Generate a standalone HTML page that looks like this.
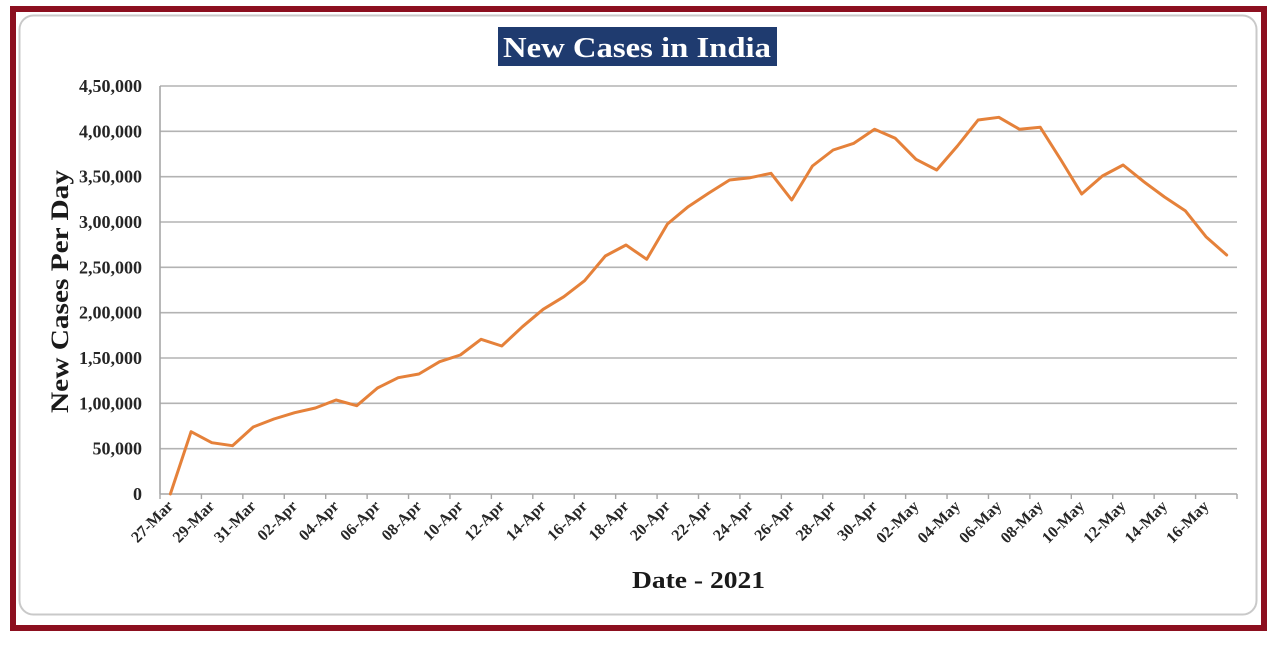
<!DOCTYPE html>
<html>
<head>
<meta charset="utf-8">
<style>
  html, body { margin:0; padding:0; background:#ffffff; }
  svg { display:block; }
  text { font-family: "Liberation Serif", "DejaVu Serif", serif; font-weight:bold; }
</style>
</head>
<body>
<svg width="1280" height="650" viewBox="0 0 1280 650" xmlns="http://www.w3.org/2000/svg">
  <rect x="0" y="0" width="1280" height="650" fill="#ffffff"/>
  <!-- outer dark red frame -->
  <rect x="13" y="9" width="1251" height="619" fill="none" stroke="#8c0f1f" stroke-width="6"/>
  <!-- inner rounded panel -->
  <rect x="19.5" y="15.5" width="1237" height="599" rx="14" ry="14" fill="#ffffff" stroke="#c9c9c9" stroke-width="2"/>

  <!-- title -->
  <rect x="498" y="27" width="279" height="39" fill="#1f3b6f"/>
  <text x="503" y="57" font-size="29" fill="#ffffff" textLength="268" lengthAdjust="spacingAndGlyphs">New Cases in India</text>

  <!-- gridlines -->
  <g stroke="#b3b3b3" stroke-width="1.6">
    <line x1="160" y1="86" x2="1237" y2="86"/>
    <line x1="160" y1="131.3" x2="1237" y2="131.3"/>
    <line x1="160" y1="176.7" x2="1237" y2="176.7"/>
    <line x1="160" y1="222" x2="1237" y2="222"/>
    <line x1="160" y1="267.3" x2="1237" y2="267.3"/>
    <line x1="160" y1="312.7" x2="1237" y2="312.7"/>
    <line x1="160" y1="358" x2="1237" y2="358"/>
    <line x1="160" y1="403.3" x2="1237" y2="403.3"/>
    <line x1="160" y1="448.7" x2="1237" y2="448.7"/>
  </g>
  <!-- axes -->
  <g stroke="#a6a6a6" stroke-width="1.6">
    <line x1="160" y1="86" x2="160" y2="494"/>
    <line x1="160" y1="494" x2="1237" y2="494"/>
  </g>
  <!-- x ticks -->
  <g stroke="#a6a6a6" stroke-width="1.4">
    <line x1="160" y1="494" x2="160" y2="499"/>
    <line x1="201.42" y1="494" x2="201.42" y2="499"/>
    <line x1="242.85" y1="494" x2="242.85" y2="499"/>
    <line x1="284.27" y1="494" x2="284.27" y2="499"/>
    <line x1="325.69" y1="494" x2="325.69" y2="499"/>
    <line x1="367.12" y1="494" x2="367.12" y2="499"/>
    <line x1="408.54" y1="494" x2="408.54" y2="499"/>
    <line x1="449.96" y1="494" x2="449.96" y2="499"/>
    <line x1="491.38" y1="494" x2="491.38" y2="499"/>
    <line x1="532.81" y1="494" x2="532.81" y2="499"/>
    <line x1="574.23" y1="494" x2="574.23" y2="499"/>
    <line x1="615.65" y1="494" x2="615.65" y2="499"/>
    <line x1="657.08" y1="494" x2="657.08" y2="499"/>
    <line x1="698.5" y1="494" x2="698.5" y2="499"/>
    <line x1="739.92" y1="494" x2="739.92" y2="499"/>
    <line x1="781.35" y1="494" x2="781.35" y2="499"/>
    <line x1="822.77" y1="494" x2="822.77" y2="499"/>
    <line x1="864.19" y1="494" x2="864.19" y2="499"/>
    <line x1="905.62" y1="494" x2="905.62" y2="499"/>
    <line x1="947.04" y1="494" x2="947.04" y2="499"/>
    <line x1="988.46" y1="494" x2="988.46" y2="499"/>
    <line x1="1029.88" y1="494" x2="1029.88" y2="499"/>
    <line x1="1071.31" y1="494" x2="1071.31" y2="499"/>
    <line x1="1112.73" y1="494" x2="1112.73" y2="499"/>
    <line x1="1154.15" y1="494" x2="1154.15" y2="499"/>
    <line x1="1195.58" y1="494" x2="1195.58" y2="499"/>
    <line x1="1237" y1="494" x2="1237" y2="499"/>
  </g>

  <!-- y tick labels -->
  <g font-size="18" fill="#262626" text-anchor="end">
    <text x="142" y="92">4,50,000</text>
    <text x="142" y="137.3">4,00,000</text>
    <text x="142" y="182.7">3,50,000</text>
    <text x="142" y="228">3,00,000</text>
    <text x="142" y="273.3">2,50,000</text>
    <text x="142" y="318.7">2,00,000</text>
    <text x="142" y="364">1,50,000</text>
    <text x="142" y="409.3">1,00,000</text>
    <text x="142" y="454.7">50,000</text>
    <text x="142" y="500">0</text>
  </g>

  <!-- y axis title -->
  <text transform="translate(68,413) rotate(-90)" font-size="25" fill="#1a1a1a" textLength="243" lengthAdjust="spacingAndGlyphs">New Cases Per Day</text>

  <!-- x tick labels -->
  <g font-size="16" fill="#262626" text-anchor="end">
    <text transform="translate(174,507) rotate(-45)">27-Mar</text>
    <text transform="translate(215.4,507) rotate(-45)">29-Mar</text>
    <text transform="translate(256.8,507) rotate(-45)">31-Mar</text>
    <text transform="translate(298.2,507) rotate(-45)">02-Apr</text>
    <text transform="translate(339.7,507) rotate(-45)">04-Apr</text>
    <text transform="translate(381.1,507) rotate(-45)">06-Apr</text>
    <text transform="translate(422.5,507) rotate(-45)">08-Apr</text>
    <text transform="translate(463.9,507) rotate(-45)">10-Apr</text>
    <text transform="translate(505.4,507) rotate(-45)">12-Apr</text>
    <text transform="translate(546.8,507) rotate(-45)">14-Apr</text>
    <text transform="translate(588.2,507) rotate(-45)">16-Apr</text>
    <text transform="translate(629.6,507) rotate(-45)">18-Apr</text>
    <text transform="translate(671.0,507) rotate(-45)">20-Apr</text>
    <text transform="translate(712.5,507) rotate(-45)">22-Apr</text>
    <text transform="translate(753.9,507) rotate(-45)">24-Apr</text>
    <text transform="translate(795.3,507) rotate(-45)">26-Apr</text>
    <text transform="translate(836.7,507) rotate(-45)">28-Apr</text>
    <text transform="translate(878.2,507) rotate(-45)">30-Apr</text>
    <text transform="translate(919.6,507) rotate(-45)">02-May</text>
    <text transform="translate(961.0,507) rotate(-45)">04-May</text>
    <text transform="translate(1002.4,507) rotate(-45)">06-May</text>
    <text transform="translate(1043.9,507) rotate(-45)">08-May</text>
    <text transform="translate(1085.3,507) rotate(-45)">10-May</text>
    <text transform="translate(1126.7,507) rotate(-45)">12-May</text>
    <text transform="translate(1168.1,507) rotate(-45)">14-May</text>
    <text transform="translate(1209.6,507) rotate(-45)">16-May</text>
  </g>

  <!-- x axis title -->
  <text x="632" y="588" font-size="24" fill="#1a1a1a" textLength="133" lengthAdjust="spacingAndGlyphs">Date - 2021</text>

  <!-- data line -->
  <polyline fill="none" stroke="#e5813a" stroke-width="3" stroke-linejoin="round" stroke-linecap="round"
    points="170.36,494 191.07,431.7 211.78,442.7 232.49,445.7 253.2,427 273.92,419 294.63,412.7 315.34,408 336.05,400 356.76,405.7 377.48,388 398.19,377.7 418.9,374 439.61,361.7 460.32,355 481.04,339.3 501.75,346 522.46,326.7 543.17,309.3 563.88,296.7 584.6,280.7 605.31,256 626.02,245 646.73,259.3 667.44,224 688.16,206.7 708.87,193 729.58,180 750.29,177.7 771,173.3 791.72,200 812.43,166 833.14,150 853.85,143.3 874.56,129.3 895.28,138.3 915.99,159.3 936.7,170 957.41,146 978.12,120 998.84,117.3 1019.55,129.3 1040.26,127.3 1060.97,160 1081.68,194 1102.4,176 1123.11,165 1143.82,181.7 1164.53,197 1185.24,210.7 1205.96,236.7 1226.67,255"/>
</svg>
</body>
</html>
